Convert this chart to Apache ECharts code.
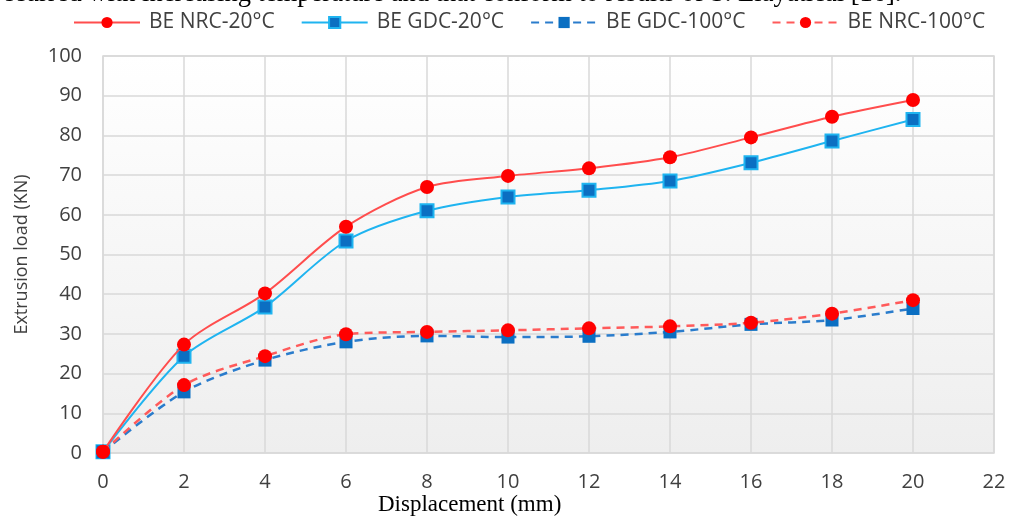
<!DOCTYPE html>
<html><head><meta charset="utf-8">
<script src="https://cdn.jsdelivr.net/npm/echarts@6/dist/echarts.min.js"></script>
<style>html,body{margin:0;padding:0;background:#fff}#c{width:1013px;height:520px}</style>
</head><body><div id="c"></div>
<script>
const displacement = [0, 2, 4, 6, 8, 10, 12, 14, 16, 18, 20];
const nrc20  = [0.3, 27.3, 40.2, 57.0, 67.0, 69.8, 71.7, 74.5, 79.5, 84.7, 88.9];
const gdc20  = [0.3, 24.4, 36.8, 53.4, 61.0, 64.5, 66.2, 68.5, 73.1, 78.6, 84.0];
const gdc100 = [0.3, 15.4, 23.4, 28.0, 29.5, 29.2, 29.4, 30.5, 32.4, 33.5, 36.4];
const nrc100 = [0.3, 17.1, 24.4, 29.9, 30.5, 30.9, 31.4, 31.9, 32.8, 35.1, 38.5];
const seriesNames = ['BE NRC-20°C', 'BE GDC-20°C', 'BE GDC-100°C', 'BE NRC-100°C'];
const xTicks = [0, 2, 4, 6, 8, 10, 12, 14, 16, 18, 20, 22];
const yTicks = [0, 10, 20, 30, 40, 50, 60, 70, 80, 90, 100];
const xTitle = 'Displacement (mm)';
const yTitle = 'Extrusion load (KN)';
const caption = 'occurred with increasing temperature and that conform to results of S. Elayaticai [16].';

const pair = arr => displacement.map((x, i) => [x, arr[i]]);
const chart = echarts.init(document.getElementById('c'));
const labelFont = '"Open Sans", Lato, sans-serif';
chart.setOption({
  animation: false,
  legend: {
    top: 7, left: 68, itemWidth: 66, itemHeight: 14, itemGap: 26,
    textStyle: { fontFamily: labelFont, fontSize: 21, color: '#404040', padding: [0, 0, 0, 4] },
    data: seriesNames
  },
  grid: {
    left: 103, right: 19, top: 56, bottom: 67, show: true,
    borderColor: '#d9d9d9', borderWidth: 1.5,
    backgroundColor: new echarts.graphic.LinearGradient(0, 0, 0, 1, [
      { offset: 0, color: '#ffffff' }, { offset: 1, color: '#eeeeee' }])
  },
  xAxis: {
    type: 'value', min: xTicks[0], max: xTicks[xTicks.length - 1], interval: 2,
    axisLine: { show: false }, axisTick: { show: false },
    splitLine: { lineStyle: { color: '#d9d9d9', width: 1.5 } },
    axisLabel: { margin: 19, fontFamily: labelFont, fontSize: 20, color: '#404040' }
  },
  yAxis: {
    type: 'value', min: yTicks[0], max: yTicks[yTicks.length - 1], interval: 10,
    name: yTitle, nameLocation: 'middle', nameGap: 72, nameRotate: 90,
    nameTextStyle: { fontFamily: labelFont, fontSize: 18, color: '#404040' },
    axisLine: { show: false }, axisTick: { show: false },
    splitLine: { lineStyle: { color: '#d9d9d9', width: 1.5 } },
    axisLabel: { margin: 21, fontFamily: labelFont, fontSize: 20, color: '#404040' }
  },
  graphic: [
    { type: 'text', left: 378, top: 493,
      style: { text: xTitle, font: '23px "Liberation Serif", "DejaVu Serif", serif', fill: '#000' } },
    { type: 'text', left: -11, top: -19,
      style: { text: caption, font: '26.5px "Liberation Serif", serif', fill: '#000' } }
  ],
  series: [
    { name: seriesNames[0], type: 'line', data: pair(nrc20), smooth: 0.3,
      symbol: 'circle', symbolSize: 14, z: 4,
      lineStyle: { color: '#ff4d4d', width: 2 },
      itemStyle: { color: '#ff0000' } },
    { name: seriesNames[1], type: 'line', data: pair(gdc20), smooth: 0.3,
      symbol: 'rect', symbolSize: 13, z: 3,
      lineStyle: { color: '#1fb4f0', width: 2 },
      itemStyle: { color: '#0b6fc2', borderColor: '#1fb4f0', borderWidth: 2 } },
    { name: seriesNames[2], type: 'line', data: pair(gdc100), smooth: 0.3,
      symbol: 'rect', symbolSize: 13, z: 3,
      lineStyle: { color: '#2a7ccc', width: 2.5, type: [8, 6] },
      itemStyle: { color: '#0b6fc2' } },
    { name: seriesNames[3], type: 'line', data: pair(nrc100), smooth: 0.3,
      symbol: 'circle', symbolSize: 14, z: 4,
      lineStyle: { color: '#ff5a5a', width: 2.5, type: [8, 6] },
      itemStyle: { color: '#ff0000' } }
  ]
});
</script></body></html>
